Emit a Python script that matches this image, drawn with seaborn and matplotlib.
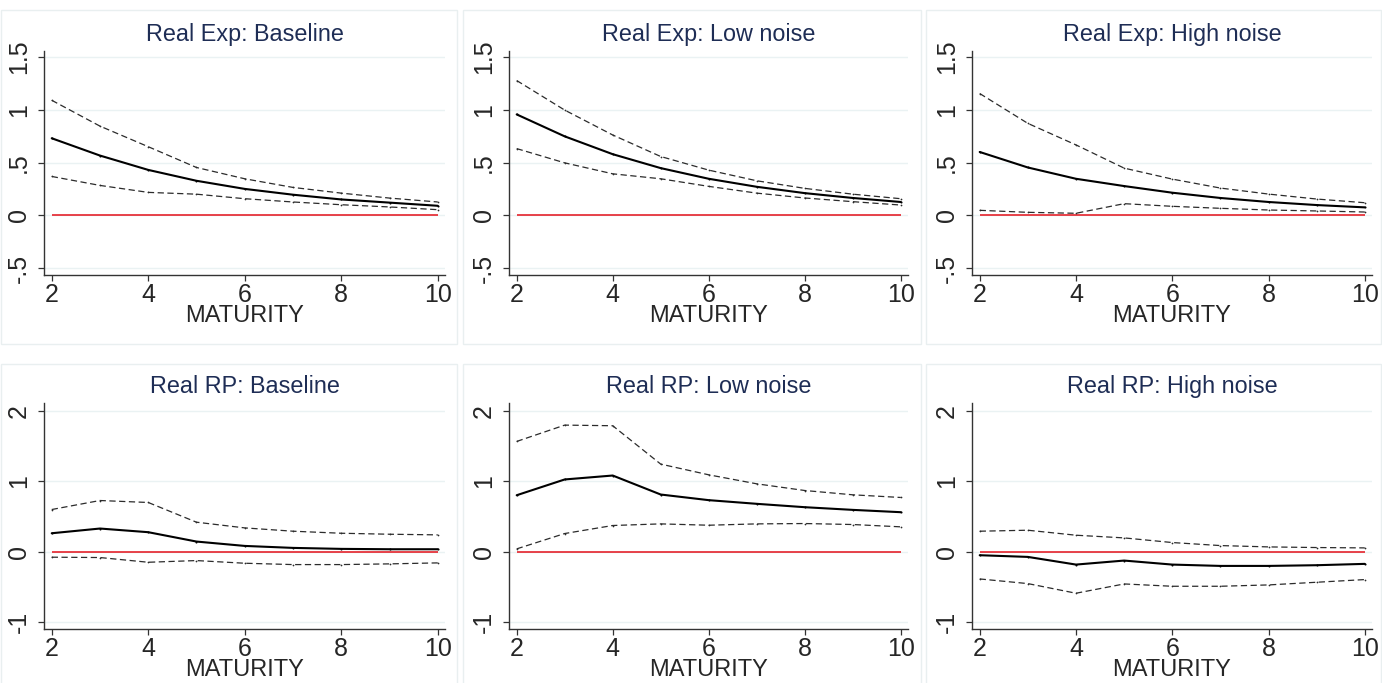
import numpy as np
import pandas as pd
import seaborn as sns
import matplotlib.pyplot as plt
from matplotlib.patches import Rectangle

# ---------------- data ----------------
maturity = [2, 3, 4, 5, 6, 7, 8, 9, 10]

titles = ["Real Exp: Baseline", "Real Exp: Low noise", "Real Exp: High noise",
          "Real RP: Baseline", "Real RP: Low noise", "Real RP: High noise"]

exp_base_est = [0.73, 0.566, 0.43, 0.327, 0.25, 0.195, 0.15, 0.12, 0.09]
exp_base_hi = [1.09, 0.845, 0.65, 0.453, 0.346, 0.264, 0.21, 0.163, 0.126]
exp_base_lo = [0.368, 0.283, 0.217, 0.20, 0.157, 0.126, 0.10, 0.079, 0.053]

exp_low_est = [0.956, 0.748, 0.579, 0.447, 0.346, 0.27, 0.21, 0.164, 0.126]
exp_low_hi = [1.277, 0.997, 0.761, 0.557, 0.428, 0.327, 0.255, 0.20, 0.157]
exp_low_lo = [0.632, 0.497, 0.393, 0.346, 0.274, 0.21, 0.164, 0.129, 0.097]

exp_high_est = [0.60, 0.453, 0.346, 0.277, 0.214, 0.164, 0.126, 0.097, 0.075]
exp_high_hi = [1.154, 0.871, 0.667, 0.447, 0.343, 0.258, 0.201, 0.154, 0.119]
exp_high_lo = [0.047, 0.028, 0.019, 0.11, 0.085, 0.066, 0.05, 0.041, 0.031]

rp_base_est = [0.26, 0.327, 0.275, 0.142, 0.08, 0.052, 0.038, 0.033, 0.033]
rp_base_hi = [0.597, 0.725, 0.697, 0.417, 0.336, 0.289, 0.26, 0.246, 0.237]
rp_base_lo = [-0.08, -0.085, -0.152, -0.128, -0.166, -0.185, -0.185, -0.175, -0.161]

rp_low_est = [0.80, 1.024, 1.08, 0.81, 0.73, 0.678, 0.63, 0.592, 0.559]
rp_low_hi = [1.564, 1.796, 1.787, 1.242, 1.09, 0.962, 0.867, 0.806, 0.768]
rp_low_lo = [0.038, 0.256, 0.37, 0.393, 0.374, 0.393, 0.398, 0.384, 0.351]

rp_high_est = [-0.052, -0.076, -0.185, -0.128, -0.185, -0.204, -0.204, -0.194, -0.175]
rp_high_hi = [0.289, 0.303, 0.232, 0.194, 0.128, 0.085, 0.066, 0.057, 0.052]
rp_high_lo = [-0.389, -0.455, -0.592, -0.46, -0.493, -0.493, -0.474, -0.436, -0.398]

exp_yticks = [-0.5, 0, 0.5, 1, 1.5]
exp_yticklabels = ["-.5", "0", ".5", "1", "1.5"]
rp_yticks = [-1, 0, 1, 2]
rp_yticklabels = ["-1", "0", "1", "2"]
xticks = [2, 4, 6, 8, 10]

panels = [
    (exp_base_est, exp_base_hi, exp_base_lo),
    (exp_low_est, exp_low_hi, exp_low_lo),
    (exp_high_est, exp_high_hi, exp_high_lo),
    (rp_base_est, rp_base_hi, rp_base_lo),
    (rp_low_est, rp_low_hi, rp_low_lo),
    (rp_high_est, rp_high_hi, rp_high_lo),
]

# ---------------- style ----------------
sns.set_style("white")
plt.rcParams['font.family'] = ['Liberation Sans', 'DejaVu Sans']

W, H = 1382, 683
fig = plt.figure(figsize=(W / 100, H / 100), dpi=100)

def px_rect(L, R, T, B):
    return [L / W, 1 - B / H, (R - L) / W, (B - T) / H]

cols = [(44, 445), (509, 908), (972, 1372)]
rows = [(51, 275), (403, 629)]
boxes_x = [(1, 457), (463, 921), (926, 1381)]
boxes_y = [(10, 344), (364, 690)]

# light outline around each sub-graph (graph combine look)
for (by0, by1) in boxes_y:
    for (bx0, bx1) in boxes_x:
        fig.patches.append(Rectangle((bx0 / W, 1 - by1 / H), (bx1 - bx0) / W, (by1 - by0) / H,
                                     transform=fig.transFigure, fill=False,
                                     edgecolor="#e9eff0", linewidth=1.0))

for i, (est, hi, lo) in enumerate(panels):
    r, c = divmod(i, 3)
    ax = fig.add_axes(px_rect(cols[c][0], cols[c][1], rows[r][0], rows[r][1]))
    df = pd.DataFrame({"MATURITY": maturity, "est": est, "hi": hi, "lo": lo})

    if r == 0:
        yt, ytl, ylim = exp_yticks, exp_yticklabels, (-0.566, 1.557)
    else:
        yt, ytl, ylim = rp_yticks, rp_yticklabels, (-1.1, 2.11)

    for y in yt:
        ax.axhline(y, color="#eaf2f3", linewidth=1.0, zorder=0)

    ax.hlines(0, maturity[0], maturity[-1], color="#e3101a", linewidth=1.1, zorder=1)

    for col in ["hi", "lo"]:
        sns.lineplot(data=df, x="MATURITY", y=col, ax=ax, color="#2b2b2b",
                     linewidth=0.9, dashes=False, zorder=2,
                     marker=".", markersize=2.5, markeredgewidth=0)
        ax.lines[-1].set_dashes((5, 2.8))
    sns.lineplot(data=df, x="MATURITY", y="est", ax=ax, color="black",
                 linewidth=1.5, zorder=3, marker=".", markersize=3,
                 markeredgewidth=0)

    ax.set_xlim(1.84, 10.15)
    ax.set_ylim(*ylim)
    ax.set_xticks(xticks)
    ax.set_xticklabels([str(t) for t in xticks])
    ax.set_yticks(yt)
    ax.set_yticklabels(ytl, rotation=90, va="center")
    ax.tick_params(axis="both", which="major", labelsize=18, length=4.5, width=0.9,
                   color="#333333", direction="out", left=True, bottom=True)
    ax.tick_params(axis="y", pad=5)
    ax.tick_params(axis="x", pad=1)
    ax.set_ylabel("")
    ax.set_xlabel("MATURITY", fontsize=17, labelpad=-1)
    ax.set_title(titles[i], fontsize=16.8, color="#1e2d55", pad=7)

    for s in ["top", "right"]:
        ax.spines[s].set_visible(False)
    for s in ["left", "bottom"]:
        ax.spines[s].set_color("#333333")
        ax.spines[s].set_linewidth(1.0)
    ax.set_facecolor("white")

fig.savefig("out.png", dpi=100, facecolor="white")
